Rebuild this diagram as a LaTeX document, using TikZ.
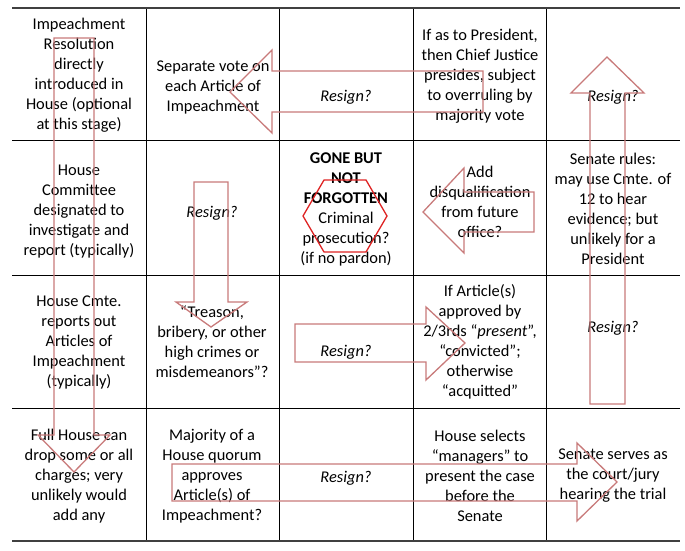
\documentclass[tikz,border=0pt]{standalone}
\usepackage{fontspec}
\setmainfont{Carlito}
\usepackage{tikz}
\usetikzlibrary{positioning}
\usepackage{xcolor}
\definecolor{arrowPink}{RGB}{200,122,122}
\definecolor{hexRed}{RGB}{222,34,34}
\newcommand{\cellfont}{\fontsize{16.4}{20}\selectfont}
\tikzstyle{cell} = [align=center, inner sep=0pt, font=\cellfont]
\tikzstyle{resign} = [align=center, inner sep=0pt, font=\cellfont\itshape]
\tikzstyle{gridline} = [black, line width=0.9pt]
\tikzstyle{outerline} = [black!75, line width=1.4pt]
\tikzstyle{blockarrow} = [draw=arrowPink, line width=1.3pt, line join=miter]
\tikzstyle{stopsign} = [draw=hexRed, line width=1.3pt, line join=miter]

\begin{document}
\begin{tikzpicture}[x=1pt, y=-1pt]
      \useasboundingbox (0,0) rectangle (685,551);
      % table
      \foreach \y in {140,275,408} \draw [gridline] (12,\y) -- (680,\y);
      \foreach \x in {146,279,413,546} \draw [gridline] (\x,8) -- (\x,541);
      \draw [outerline] (12,8) -- (680,8);
      \draw [outerline] (12,541) -- (680,541);

      % row 1
      \node (resolution) [cell] at (79,75) {Impeachment\\Resolution\\directly\\introduced in\\House (optional\\at this stage)};
      \node (separateVote) [cell] at (213,87) {Separate vote on\\each Article of\\Impeachment};
      \node (resign1) [resign] at (346,97) {Resign?};
      \node (chiefJustice) [cell] at (480,76) {If as to President,\\then Chief Justice\\presides, subject\\to overruling by\\majority vote};
      \node (resign2) [resign] at (613,97) {Resign?};

      % row 2
      \node (houseCmte) [cell] at (79,212) {House\\Committee\\designated to\\investigate and\\report (typically)};
      \node (resign3) [resign] at (212,213) {Resign?};
      \node (goneBut) [cell] at (346,209) {\textbf{GONE BUT}\\\textbf{NOT}\\\textbf{FORGOTTEN}\\Criminal\\prosecution?\\(if no pardon)};
      \node (disqualify) [cell] at (480,202) {Add\\disqualification\\from future\\office?};
      \node (senateRules) [cell] at (613,209) {Senate rules:\\may use Cmte. of\\12 to hear\\evidence; but\\unlikely for a\\President};

      % row 3
      \node (reportsOut) [cell] at (79,342) {House Cmte.\\reports out\\Articles of\\Impeachment\\(typically)};
      \node (treason) [cell] at (212,342) {“Treason,\\bribery, or other\\high crimes or\\misdemeanors”?};
      \node (resign4) [resign] at (346,352) {Resign?};
      \node (convicted) [cell] at (480,342) {If Article(s)\\approved by\\2/3rds “\textit{present}”,\\“convicted”;\\otherwise\\“acquitted”};
      \node (resign5) [resign] at (613,328) {Resign?};

      % row 4
      \node (fullHouse) [cell] at (79,476) {Full House can\\drop some or all\\charges; very\\unlikely would\\add any};
      \node (majority) [cell] at (212,476) {Majority of a\\House quorum\\approves\\Article(s) of\\Impeachment?};
      \node (resign6) [resign] at (346,478) {Resign?};
      \node (managers) [cell] at (480,476) {House selects\\“managers” to\\present the case\\before the\\Senate};
      \node (senateServes) [cell] at (613,476) {Senate serves as\\the court/jury\\hearing the trial};

      % block arrows
      \draw [blockarrow] (54,38) -- (94,38) -- (94,435) -- (110,435) -- (74,472) -- (38,435) -- (54,435) -- cycle;
      \draw [blockarrow] (194,182) -- (228,182) -- (228,302) -- (247,302) -- (211,327) -- (176,302) -- (194,302) -- cycle;
      \draw [blockarrow] (483,71) -- (483,112) -- (272,112) -- (272,133) -- (230,92) -- (272,50) -- (272,71) -- cycle;
      \draw [blockarrow] (534,192) -- (534,232) -- (464,232) -- (464,253) -- (423,212) -- (464,168) -- (464,192) -- cycle;
      \draw [blockarrow] (295,324) -- (426,324) -- (426,307) -- (465,343) -- (426,380) -- (426,362) -- (295,362) -- cycle;
      \draw [blockarrow] (172,464) -- (577,464) -- (577,443) -- (617,482) -- (577,521) -- (577,501) -- (172,501) -- cycle;
      \draw [blockarrow] (590,404) -- (590,93) -- (571,93) -- (607,57) -- (644,93) -- (625,93) -- (625,404) -- cycle;
      \draw [stopsign] (303,216) -- (324,180) -- (366,180) -- (387,216) -- (366,252) -- (324,252) -- cycle;
    \end{tikzpicture}
\end{document}
